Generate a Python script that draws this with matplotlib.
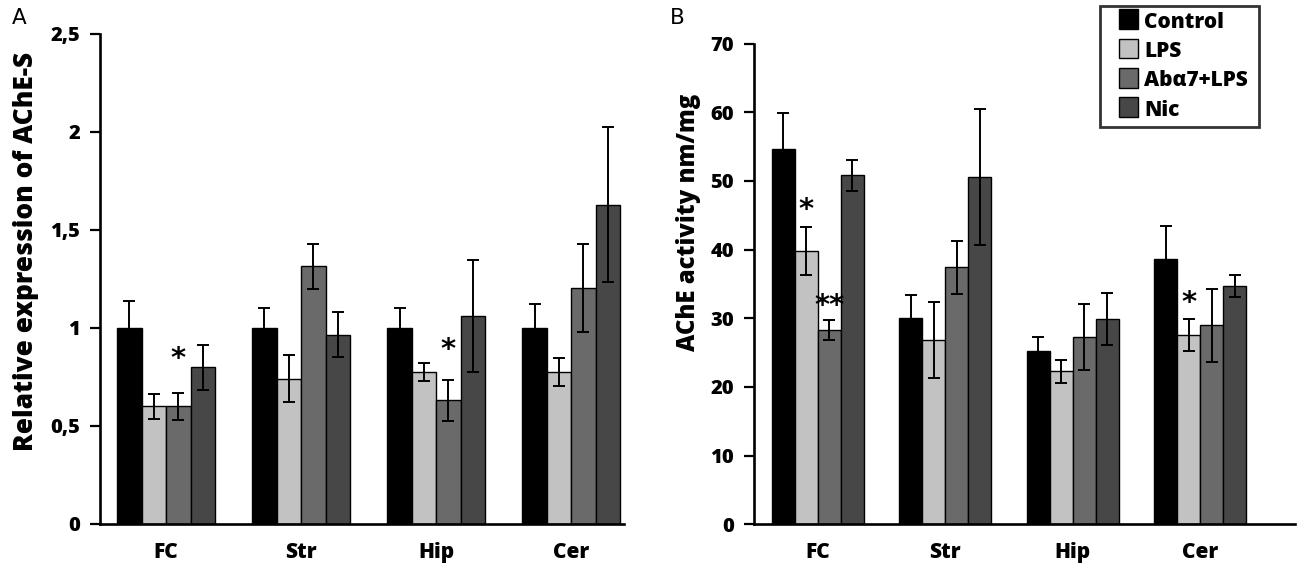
import matplotlib
matplotlib.use("Agg")
import matplotlib.pyplot as plt
import numpy as np
from matplotlib.patches import Patch, Rectangle
from matplotlib.legend_handler import HandlerPatch

plt.rcParams['font.family'] = ['Open Sans', 'DejaVu Sans']
plt.rcParams['font.weight'] = 'heavy'
W = 'heavy'

regions = ["FC", "Str", "Hip", "Cer"]
groups = ["Control", "LPS", "Abα7+LPS", "Nic"]
colors = ["#000000", "#c2c2c2", "#6a6a6a", "#474747"]

# Panel A: relative expression of AChE-S
a_control = [1.00, 1.00, 1.00, 1.00]
a_lps = [0.60, 0.74, 0.775, 0.775]
a_aba = [0.60, 1.315, 0.63, 1.205]
a_nic = [0.80, 0.965, 1.06, 1.63]
a_control_err = [0.14, 0.10, 0.10, 0.12]
a_lps_err = [0.065, 0.12, 0.045, 0.07]
a_aba_err = [0.07, 0.115, 0.105, 0.225]
a_nic_err = [0.115, 0.115, 0.285, 0.395]
a_yticks = [0, 0.5, 1, 1.5, 2, 2.5]
a_yticklabels = ["0", "0,5", "1", "1,5", "2", "2,5"]
# (region index, group index, y, text)
a_marks = [(0, 2, 0.84, "*"), (2, 2, 0.89, "*")]

# Panel B: AChE activity nm/mg
b_control = [54.6, 30.1, 25.2, 38.6]
b_lps = [39.8, 26.8, 22.3, 27.6]
b_aba = [28.3, 37.4, 27.3, 29.0]
b_nic = [50.8, 50.6, 29.9, 34.7]
b_control_err = [5.3, 3.3, 2.1, 4.9]
b_lps_err = [3.5, 5.5, 1.7, 2.3]
b_aba_err = [1.5, 3.8, 4.8, 5.3]
b_nic_err = [2.3, 9.9, 3.8, 1.6]
b_yticks = [0, 10, 20, 30, 40, 50, 60, 70]
b_marks = [(0, 1, 45.8, "*"), (0, 2, 31.8, "**"), (3, 1, 32.2, "*")]

fig = plt.figure(figsize=(13, 5.8), dpi=100)
axA = fig.add_axes([0.0769, 0.0966, 0.403, 0.8448])
axB = fig.add_axes([0.58, 0.0959, 0.416, 0.8291])

def draw(ax, vals, errs, width, xlim, ylim, yticks, yticklabels, ylabel, marks,
         lsize, lx, ly):
    x = np.arange(len(regions))
    for i, (v, e, c, g) in enumerate(zip(vals, errs, colors, groups)):
        pos = x + (i - 1.5) * width
        ax.bar(pos, v, width, color=c, edgecolor="black", linewidth=1.0,
               yerr=e, error_kw=dict(ecolor="black", elinewidth=1.4, capsize=4.5, capthick=1.4),
               label=g, zorder=2)
    for r, gi, y, t in marks:
        ax.text(x[r] + (gi - 1.5) * width, y, t, ha="center", va="center",
                fontsize=21, fontweight=W, family=['DejaVu Sans'])
    ax.set_xlim(*xlim)
    ax.set_ylim(*ylim)
    ax.set_xticks(x)
    ax.set_xticklabels(regions, fontsize=15, fontweight=W)
    ax.tick_params(axis="x", length=0, pad=13)
    ax.set_yticks(yticks)
    ax.set_yticklabels(yticklabels, fontsize=14.5, fontweight=W)
    ax.tick_params(axis="y", direction="out", length=7.5, width=1.6, pad=7)
    for s in ["top", "right"]:
        ax.spines[s].set_visible(False)
    for s in ["left", "bottom"]:
        ax.spines[s].set_linewidth(1.9)
    ax.set_ylabel(ylabel, fontsize=lsize, fontweight=W)
    ax.yaxis.set_label_coords(lx, ly, transform=fig.transFigure)

draw(axA, [a_control, a_lps, a_aba, a_nic],
     [a_control_err, a_lps_err, a_aba_err, a_nic_err],
     0.181, (-0.49, 3.39), (0, 2.5), a_yticks, a_yticklabels,
     "Relative expression of AChE-S", a_marks, 18.9, 39 / 1300, 1 - 251 / 580)
draw(axB, [b_control, b_lps, b_aba, b_nic],
     [b_control_err, b_lps_err, b_aba_err, b_nic_err],
     0.18, (-0.50, 3.74), (0, 70), b_yticks, [str(t) for t in b_yticks],
     "AChE activity nm/mg", b_marks, 17.2, 701 / 1300, 1 - 222 / 580)

def square(legend, orig_handle, xdescent, ydescent, width, height, fontsize):
    s = 14.0
    return Rectangle((-xdescent + width - s, -ydescent + (height - s) / 2 + 1), s, s)

handles = [Patch(facecolor=c, edgecolor="black", linewidth=1.0) for c in colors]
leg = fig.legend(handles, groups, loc="upper left",
                 bbox_to_anchor=(1100 / 1300, 1 - 126 / 580, 159 / 1300, 120 / 580),
                 mode="expand", frameon=True, fancybox=False, edgecolor="black",
                 prop=dict(size=15, weight=W), handlelength=1.55, handleheight=0.75,
                 handletextpad=0.3, labelspacing=0.4, borderpad=0.28,
                 borderaxespad=0.0,
                 handler_map={Patch: HandlerPatch(patch_func=square)})
leg.get_frame().set_linewidth(2.0)

fig.text(19 / 1300, 1 - 17.5 / 580, "A", fontsize=15.5, fontweight="normal",
         family=['DejaVu Sans'], ha="center", va="center")
fig.text(677 / 1300, 1 - 18.5 / 580, "B", fontsize=15.5, fontweight="normal",
         family=['DejaVu Sans'], ha="center", va="center")

fig.savefig("out.png", dpi=100)
